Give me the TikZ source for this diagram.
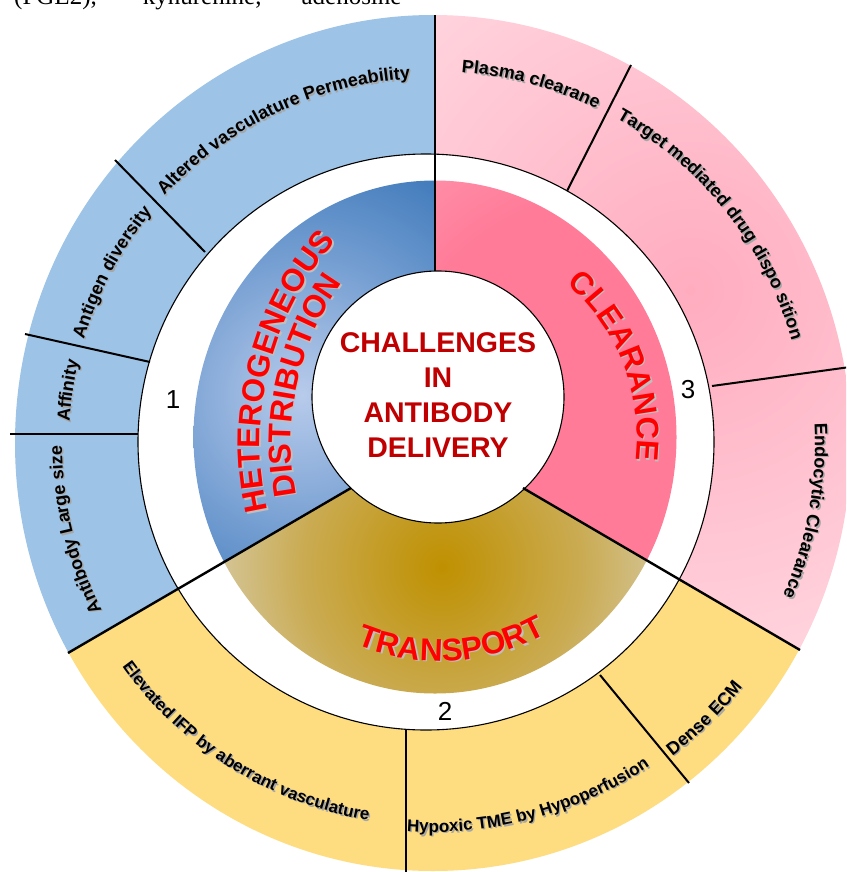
\documentclass[tikz,border=0pt]{standalone}
\usepackage{fontspec}
\setmainfont{Liberation Sans}
\newfontfamily\bodyserif{Liberation Serif}
\usetikzlibrary{decorations.text}

\definecolor{obl}{HTML}{9DC3E6}
\definecolor{oye}{HTML}{FEDC80}
\definecolor{opkA}{HTML}{FFACBF}
\definecolor{opkB}{HTML}{FFDCE4}
\definecolor{bgl}{HTML}{B8CBEB}
\definecolor{bgm}{HTML}{6E9ACF}
\definecolor{bgd}{HTML}{2C6CB2}
\definecolor{gdd}{HTML}{BF9000}
\definecolor{gdm}{HTML}{CAAB52}
\definecolor{gdl}{HTML}{DCDACF}
\definecolor{pkd}{HTML}{FF7B98}
\definecolor{pkl}{HTML}{FFA3B7}
\definecolor{darkred}{HTML}{C00000}

\pgfdeclareradialshading{blueglow}{\pgfpoint{0bp}{0bp}}{color(0bp)=(bgl); color(12bp)=(bgm); color(24bp)=(bgd); color(50bp)=(bgd)}
\pgfdeclareradialshading{goldglow}{\pgfpoint{0bp}{0bp}}{color(0bp)=(gdd); color(12bp)=(gdm); color(25bp)=(gdl); color(50bp)=(gdl)}
\pgfdeclareradialshading{pinkglow}{\pgfpoint{0bp}{0bp}}{color(0bp)=(pkd); color(14bp)=(pkd); color(25bp)=(pkl); color(50bp)=(pkl)}
\pgfdeclareradialshading{opink}{\pgfpoint{0bp}{0bp}}{color(0bp)=(opkA); color(25bp)=(opkB); color(50bp)=(opkB)}

\newcommand\fOut{\bfseries\fontsize{18}{18}\selectfont}
\newcommand\fOutS{\bfseries\fontsize{17}{17}\selectfont}
\newcommand\fIn{\bfseries\fontsize{31.5}{31.5}\selectfont}

% #1 centre x,y  #2 radius  #3 start angle  #4 end angle  #5 font  #6 text  #7 colour  #8 shadow colour
\newcommand{\arcword}[8]{%
  \path[decorate,decoration={text along path,text align=center,text color=#8,text={|#5|#6}}]
    ([shift={(1.4,-1.4)}]#1) ++(#3:#2pt) arc[start angle=#3,end angle=#4,radius=#2pt];
  \path[decorate,decoration={text along path,text align=center,text color=#7,text={|#5|#6}}]
    (#1) ++(#3:#2pt) arc[start angle=#3,end angle=#4,radius=#2pt];
}

\tikzset{
  maindiv/.style={line width=2.4pt,black},
  subdiv/.style={line width=2pt,black},
  ringedge/.style={fill=white,draw=black,line width=1.1pt},
  numlabel/.style={inner sep=0pt,font=\fontsize{26}{26}\selectfont}
}

\begin{document}
\begin{tikzpicture}[x=1pt,y=1pt]
\useasboundingbox (0,0) rectangle (846,-872);
\clip (0,0) rectangle (846,-872);
\fill[white] (0,0) rectangle (846,-872);

% partial line of body text at the top
\node[anchor=base west,inner sep=0pt,font=\bodyserif\fontsize{25}{25}\selectfont] (toptext) at (14,-5)
  {(PGE2),\hspace{46pt}kynurenine,\hspace{40pt}adenosine};

% ---------- outer ring ----------
\begin{scope}
  \clip (433,-443) ellipse [x radius=418pt, y radius=428pt];
  \fill[obl] (435,-438) -- (435,300) -- (-700,300) -- (-700,-1103) -- cycle;
  \fill[oye] (435,-438) -- (-700,-1103) -- (-700,-1800) -- (1500,-1800) -- (1500,-1057) -- cycle;
  \begin{scope}
    \clip (435,-438) -- (435,300) -- (1500,300) -- (1500,-1057) -- cycle;
    \shade[shading=opink] (690,-290) circle (460pt);
  \end{scope}
\end{scope}

\filldraw[ringedge] (426,-442) circle (288pt);

% ---------- inner ring ----------
\begin{scope}
  \clip (435,-437) ellipse [x radius=241.5pt, y radius=256.5pt];
  \begin{scope}
    \clip (435,-438) -- (435,300) -- (-700,300) -- (-700,-1103) -- cycle;
    \shade[shading=blueglow] (302,-395) circle (315pt);
  \end{scope}
  \begin{scope}
    \clip (435,-438) -- (435,300) -- (1500,300) -- (1500,-1057) -- cycle;
    \shade[shading=pinkglow] (615,-420) circle (400pt);
  \end{scope}
  \begin{scope}
    \clip (435,-438) -- (-700,-1103) -- (-700,-1800) -- (1500,-1800) -- (1500,-1057) -- cycle;
    \shade[shading=goldglow] (442,-567) circle (290pt);
  \end{scope}
\end{scope}

\filldraw[ringedge] (438,-397) circle (126pt);

% ---------- dividers ----------
\coordinate (topA) at (435,-15);
\coordinate (topB) at (435,-271);
\coordinate (llA) at (351,-488);
\coordinate (llB) at (68,-653);
\coordinate (lrA) at (523,-488);
\coordinate (lrB) at (800,-650);
\draw[maindiv] (topA) -- (topB);
\draw[maindiv] (llA) -- (llB);
\draw[maindiv] (lrA) -- (lrB);

\draw[subdiv] (10,-434) -- (138,-434);
\draw[subdiv] (25,-334) -- (150,-362);
\draw[subdiv] (115,-160) -- (205,-252);
\draw[subdiv] (631,-65) -- (567,-191);
\draw[subdiv] (712,-386) -- (850,-367);
\draw[subdiv] (600,-675) -- (689,-783);
\draw[subdiv] (406,-730) -- (406,-875);

% ---------- outer ring texts ----------
\arcword{433,-443}{365}{150.5}{80.5}{\fOut}{Altered vasculature Permeability}{black}{black!35}
\arcword{433,-443}{364}{172}{132}{\fOut}{Antigen diversity}{black}{black!35}
\arcword{433,-443}{364}{186.8}{156.8}{\fOut}{Affinity}{black}{black!35}
\arcword{433,-443}{371}{213.6}{173.6}{\fOut}{Antibody Large size}{black}{black!35}
\arcword{433,-443}{372}{92.75}{56.75}{\fOut}{Plasma clearane}{black}{black!35}
\arcword{433,-443}{373}{68.25}{8.25}{\fOut}{Target mediated drug dispo sition}{black}{black!35}
\arcword{433,-443}{382}{9.7}{-30.3}{\fOut}{Endocytic Clearance}{black}{black!35}
\arcword{433,-443}{394}{-57.4}{-33.4}{\fOut}{Dense ECM}{black}{black!35}
\arcword{433,-443}{389}{260}{310}{\fOutS}{Hypoxic TME by Hypoperfusion}{black}{black!35}
\arcword{433,-443}{383}{211}{265}{\fOutS}{Elevated IFP by aberrant vasculature}{black}{black!35}

% ---------- inner ring texts ----------
\arcword{563,-442}{303}{200.8}{130.8}{\fIn}{HETEROGENEOUS}{red}{black!25}
\arcword{563,-442}{272}{202.7}{132.7}{\fIn}{DISTRIBUTION}{red}{black!25}
\arcword{435,-437}{202}{61.3}{-18.7}{\fIn}{CLEARANCE}{red}{black!25}
\arcword{440,-440}{221}{238.3}{308.3}{\fIn}{TRANSPORT}{red}{black!25}

% ---------- centre and numbers ----------
\node[align=center,inner sep=0pt,text=darkred,font=\bfseries\fontsize{28.5}{35}\selectfont] (title) at (438,-395)
  {CHALLENGES\\IN\\ANTIBODY\\DELIVERY};
\node[numlabel] (n1) at (173,-400) {1};
\node[numlabel] (n2) at (445,-711) {2};
\node[numlabel] (n3) at (688,-390) {3};
\end{tikzpicture}
\end{document}
